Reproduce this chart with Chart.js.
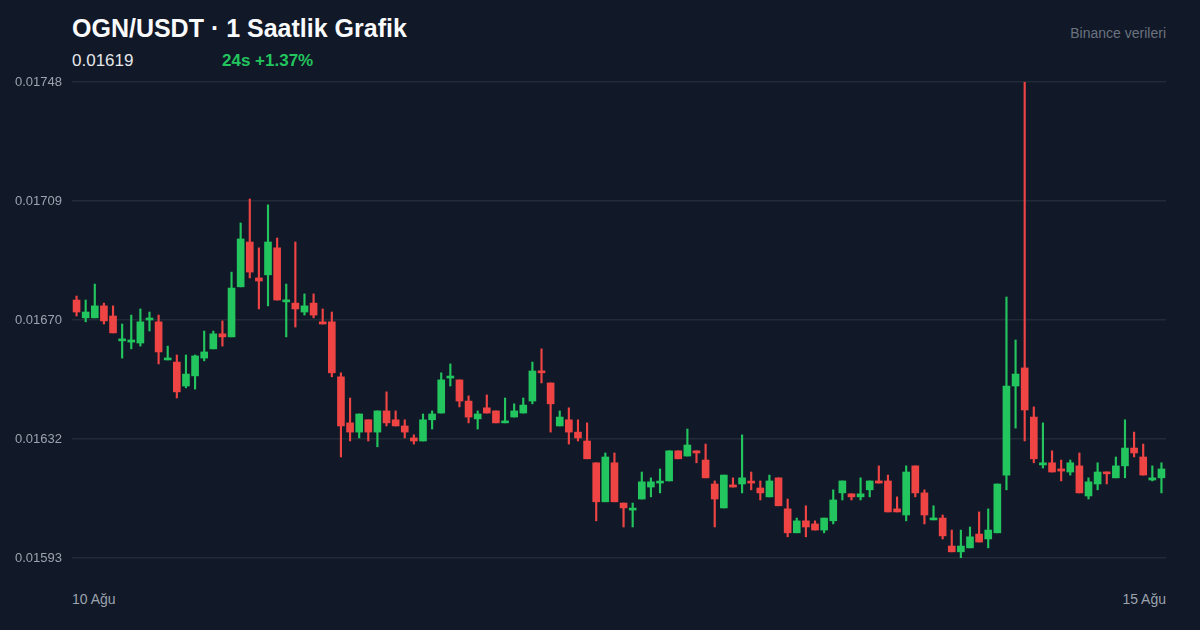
<!DOCTYPE html>
<html>
<head>
<meta charset="utf-8">
<script src="https://cdn.jsdelivr.net/npm/chart.js@4"></script>
<style>
  html, body { margin: 0; padding: 0; background: #111827; }
  body { width: 1200px; height: 630px; position: relative; overflow: hidden; font-family: "Liberation Sans", Arial, sans-serif; }
  #title { position: absolute; left: 72px; top: 14px; color: #f9fafb; font-size: 25px; font-weight: bold; }
  #price { position: absolute; left: 72px; top: 51px; color: #e5e7eb; font-size: 17px; }
  #change { position: absolute; left: 222px; top: 51px; color: #22c55e; font-size: 17px; font-weight: bold; }
  #source { position: absolute; right: 34px; top: 25px; color: #6b7280; font-size: 14px; }
  .xl { position: absolute; top: 591px; color: #9ca3af; font-size: 14px; }
  #chartWrap { position: absolute; left: 0; top: 0; width: 1200px; height: 630px; }
</style>
</head>
<body>
<div id="title">OGN/USDT · 1 Saatlik Grafik</div>
<div id="price">0.01619</div>
<div id="change">24s +1.37%</div>
<div id="source">Binance verileri</div>
<div class="xl" style="left:72px">10 Ağu</div>
<div class="xl" style="right:34px">15 Ağu</div>
<div id="chartWrap"><canvas id="chart"></canvas></div>
<script>
// OHLC values (hourly candles, 10 Ağu -> 15 Ağu)
const opens = [
  0.016770, 0.016712, 0.016712, 0.016751, 0.016718, 0.016637, 0.016633, 0.016630, 0.016705, 0.016699,
  0.016575, 0.016568, 0.016490, 0.016523, 0.016581, 0.016611, 0.016660, 0.016650, 0.016813, 0.016959,
  0.016842, 0.016852, 0.016940, 0.016764, 0.016760, 0.016731, 0.016760, 0.016699, 0.016699, 0.016520,
  0.016370, 0.016340, 0.016380, 0.016340, 0.016409, 0.016380, 0.016360, 0.016321, 0.016311, 0.016380,
  0.016402, 0.016516, 0.016510, 0.016441, 0.016383, 0.016419, 0.016409, 0.016370, 0.016389, 0.016402,
  0.016441, 0.016539, 0.016500, 0.016360, 0.016380, 0.016340, 0.016311, 0.016240, 0.016113, 0.016240,
  0.016109, 0.016086, 0.016122, 0.016161, 0.016174, 0.016181, 0.016279, 0.016262, 0.016279, 0.016249,
  0.016171, 0.016093, 0.016168, 0.016171, 0.016178, 0.016158, 0.016129, 0.016191, 0.016090, 0.016012,
  0.016051, 0.016041, 0.016021, 0.016051, 0.016142, 0.016139, 0.016129, 0.016152, 0.016181, 0.016181,
  0.016090, 0.016070, 0.016230, 0.016142, 0.016054, 0.016060, 0.015969, 0.015950, 0.015963, 0.016008,
  0.015992, 0.016012, 0.016200, 0.016490, 0.016549, 0.016389, 0.016233, 0.016240, 0.016220, 0.016210,
  0.016230, 0.016132, 0.016171, 0.016210, 0.016191, 0.016230, 0.016288, 0.016259, 0.016184, 0.016191
];
const highs = [
  0.016783, 0.016770, 0.016822, 0.016760, 0.016751, 0.016692, 0.016721, 0.016741, 0.016731, 0.016721,
  0.016620, 0.016591, 0.016591, 0.016591, 0.016669, 0.016669, 0.016702, 0.016861, 0.017021, 0.017099,
  0.016940, 0.017080, 0.016972, 0.016822, 0.016959, 0.016790, 0.016790, 0.016741, 0.016731, 0.016533,
  0.016451, 0.016399, 0.016380, 0.016409, 0.016471, 0.016409, 0.016380, 0.016331, 0.016399, 0.016409,
  0.016533, 0.016562, 0.016510, 0.016458, 0.016409, 0.016461, 0.016409, 0.016451, 0.016432, 0.016451,
  0.016568, 0.016611, 0.016500, 0.016409, 0.016419, 0.016380, 0.016370, 0.016240, 0.016272, 0.016272,
  0.016109, 0.016109, 0.016210, 0.016191, 0.016220, 0.016279, 0.016279, 0.016350, 0.016279, 0.016301,
  0.016181, 0.016200, 0.016191, 0.016331, 0.016210, 0.016181, 0.016200, 0.016191, 0.016122, 0.016060,
  0.016100, 0.016051, 0.016060, 0.016152, 0.016181, 0.016139, 0.016191, 0.016181, 0.016230, 0.016200,
  0.016129, 0.016230, 0.016230, 0.016152, 0.016100, 0.016070, 0.016021, 0.016021, 0.016031, 0.016080,
  0.016090, 0.016171, 0.016780, 0.016640, 0.017480, 0.016422, 0.016370, 0.016279, 0.016249, 0.016249,
  0.016272, 0.016191, 0.016240, 0.016210, 0.016259, 0.016380, 0.016340, 0.016301, 0.016230, 0.016240
];
const lows = [
  0.016718, 0.016699, 0.016712, 0.016692, 0.016663, 0.016581, 0.016611, 0.016620, 0.016669, 0.016562,
  0.016575, 0.016451, 0.016484, 0.016480, 0.016572, 0.016611, 0.016620, 0.016650, 0.016813, 0.016842,
  0.016741, 0.016751, 0.016770, 0.016650, 0.016682, 0.016721, 0.016712, 0.016692, 0.016520, 0.016259,
  0.016311, 0.016321, 0.016311, 0.016292, 0.016360, 0.016360, 0.016321, 0.016301, 0.016311, 0.016350,
  0.016402, 0.016490, 0.016422, 0.016370, 0.016350, 0.016402, 0.016370, 0.016370, 0.016389, 0.016402,
  0.016432, 0.016500, 0.016340, 0.016360, 0.016301, 0.016311, 0.016253, 0.016051, 0.016113, 0.016113,
  0.016031, 0.016031, 0.016122, 0.016129, 0.016142, 0.016181, 0.016253, 0.016262, 0.016240, 0.016191,
  0.016031, 0.016093, 0.016161, 0.016142, 0.016152, 0.016119, 0.016129, 0.016100, 0.015999, 0.016012,
  0.015999, 0.016021, 0.016012, 0.016041, 0.016119, 0.016119, 0.016119, 0.016129, 0.016174, 0.016080,
  0.016080, 0.016051, 0.016129, 0.016041, 0.016054, 0.015992, 0.015950, 0.015930, 0.015963, 0.015982,
  0.015963, 0.016012, 0.016152, 0.016353, 0.016311, 0.016240, 0.016223, 0.016210, 0.016181, 0.016200,
  0.016142, 0.016122, 0.016152, 0.016171, 0.016191, 0.016191, 0.016259, 0.016200, 0.016181, 0.016142
];
const closes = [
  0.016731, 0.016731, 0.016751, 0.016702, 0.016663, 0.016640, 0.016640, 0.016699, 0.016708, 0.016601,
  0.016578, 0.016471, 0.016529, 0.016588, 0.016601, 0.016660, 0.016650, 0.016809, 0.016969, 0.016861,
  0.016832, 0.016959, 0.016770, 0.016770, 0.016741, 0.016751, 0.016721, 0.016692, 0.016533, 0.016360,
  0.016340, 0.016399, 0.016340, 0.016409, 0.016370, 0.016360, 0.016340, 0.016311, 0.016380, 0.016399,
  0.016510, 0.016520, 0.016441, 0.016389, 0.016399, 0.016402, 0.016370, 0.016376, 0.016409, 0.016428,
  0.016539, 0.016533, 0.016432, 0.016389, 0.016340, 0.016321, 0.016253, 0.016113, 0.016259, 0.016113,
  0.016093, 0.016090, 0.016178, 0.016178, 0.016178, 0.016279, 0.016253, 0.016298, 0.016272, 0.016191,
  0.016122, 0.016200, 0.016161, 0.016191, 0.016174, 0.016142, 0.016181, 0.016100, 0.016012, 0.016051,
  0.016031, 0.016021, 0.016060, 0.016119, 0.016181, 0.016129, 0.016139, 0.016181, 0.016174, 0.016080,
  0.016080, 0.016210, 0.016142, 0.016070, 0.016060, 0.016002, 0.015950, 0.015969, 0.015999, 0.015982,
  0.016021, 0.016171, 0.016490, 0.016529, 0.016412, 0.016253, 0.016240, 0.016210, 0.016213, 0.016240,
  0.016142, 0.016178, 0.016210, 0.016204, 0.016230, 0.016288, 0.016272, 0.016200, 0.016191, 0.016220
];
const yMin = 0.01593;
const yMax = 0.01748;
const yTickCount = 5;

const UP = '#22c55e';
const DOWN = '#ef4444';
const labels = opens.map((_, i) => i);
const colors = opens.map((o, i) => closes[i] >= o ? UP : DOWN);

new Chart(document.getElementById('chart'), {
    type: 'bar',
    data: {
        labels: labels,
        datasets: [{
            // wicks
            data: labels.map(i => [lows[i], highs[i]]),
            backgroundColor: colors,
            barThickness: 1.5,
            grouped: false,
            order: 2
        }, {
            // bodies
            data: labels.map(i => [opens[i], closes[i]]),
            backgroundColor: colors,
            barThickness: 7,
            minBarLength: 2,
            grouped: false,
            order: 1
        }]
    },
    options: {
        responsive: true,
        maintainAspectRatio: false,
        animation: false,
        layout: { padding: { top: 82, bottom: 72, right: 34, left: 0 } },
        plugins: { legend: { display: false }, tooltip: { enabled: false } },
        scales: {
            x: {
                offset: true,
                display: false,
                grid: { display: false }
            },
            y: {
                min: yMin,
                max: yMax,
                afterBuildTicks: s => {
                    const step = (yMax - yMin) / (yTickCount - 1);
                    s.ticks = [];
                    for (let k = 0; k < yTickCount; k++) s.ticks.push({ value: yMin + k * step });
                },
                afterFit: s => { s.width = 72; },
                border: { display: false },
                grid: { color: '#222b38', lineWidth: 1.5, drawTicks: false },
                ticks: {
                    color: '#9ca3af',
                    font: { family: '"Liberation Sans", Arial, sans-serif', size: 13 },
                    padding: 10,
                    callback: v => v.toFixed(5)
                }
            }
        }
    }
});
</script>
</body>
</html>
